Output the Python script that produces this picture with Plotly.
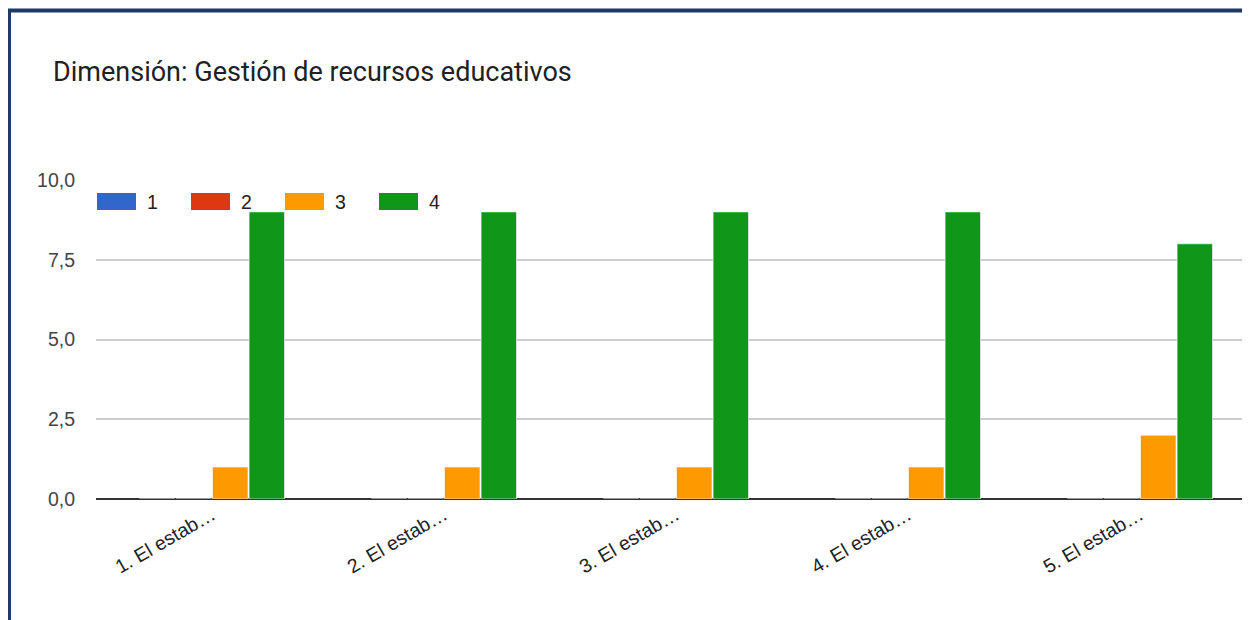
import plotly.graph_objects as go

categories = ["1. El estab…", "2. El estab…", "3. El estab…", "4. El estab…", "5. El estab…"]
series_names = ["1", "2", "3", "4"]
s1 = [0, 0, 0, 0, 0]
s2 = [0, 0, 0, 0, 0]
s3 = [1, 1, 1, 1, 2]
s4 = [9, 9, 9, 9, 8]
colors = ["#3366cc", "#dc3912", "#ff9900", "#109618"]
y_ticks = [0, 2.5, 5, 7.5, 10]

OFF = 8  # page body margin
W, H = 1250 - OFF, 620 - OFF
L, R, T = 96 - OFF, 0, 180 - OFF
B = H - (499 - OFF)
pw, ph = W - L - R, H - T - B

def px_x(x):  # x in page pixels
    return (x - OFF - L) / pw

def px_y(y):  # y in page pixels
    return (H - B - (y - OFF)) / ph

fig = go.Figure()
for name, vals, col in zip(series_names, [s1, s2, s3, s4], colors):
    fig.add_trace(go.Bar(x=categories, y=vals, name=name,
                         marker=dict(color=col, line=dict(color="rgba(255,255,255,0.6)", width=1)),
                         showlegend=False))

shapes = []
annotations = []
# custom legend
for i, (name, col) in enumerate(zip(series_names, colors)):
    x0 = 97 + 94 * i
    shapes.append(dict(type="rect", xref="paper", yref="paper",
                       x0=px_x(x0), x1=px_x(x0 + 39), y0=px_y(210), y1=px_y(193),
                       fillcolor=col, line=dict(width=0), layer="above"))
    annotations.append(dict(text=name, xref="paper", yref="paper",
                            x=px_x(x0 + 48), y=px_y(201.5), xanchor="left", yanchor="middle",
                            showarrow=False, font=dict(family="Liberation Sans, Arial", size=19.5, color="#222222")))
# frame border
shapes.append(dict(type="rect", xref="paper", yref="paper",
                   x0=px_x(9), x1=px_x(1400), y0=px_y(800), y1=px_y(10.5),
                   line=dict(color="#1f3a68", width=4), fillcolor="rgba(0,0,0,0)", layer="above"))

fig.update_layout(
    width=W, height=H,
    margin=dict(l=L, r=R, t=T, b=B),
    paper_bgcolor="white", plot_bgcolor="white",
    separators=",.",
    barmode="group", bargap=0.37, bargroupgap=0.03,
    title=dict(text="Dimensión: Gestión de recursos educativos",
               x=(53 - OFF) / W, xref="container", xanchor="left",
               y=1 - (72 - OFF) / H, yref="container", yanchor="middle",
               font=dict(family="Roboto", size=27, color="#212121")),
    xaxis=dict(range=[-0.5, -0.5 + pw / 232], tickangle=-30, showgrid=False,
               tickfont=dict(family="Liberation Sans, Arial", size=19.5, color="#222222"),
               ticks="", showline=False),
    yaxis=dict(range=[0, 10], tickvals=y_ticks, tickformat=".1f",
               gridcolor="#cccccc", gridwidth=1.5,
               zeroline=True, zerolinecolor="#333333", zerolinewidth=2,
               ticklabelstandoff=20,
               tickfont=dict(family="Liberation Sans, Arial", size=19.5, color="#444444")),
    shapes=shapes, annotations=annotations,
)

fig.write_html("out.html")
